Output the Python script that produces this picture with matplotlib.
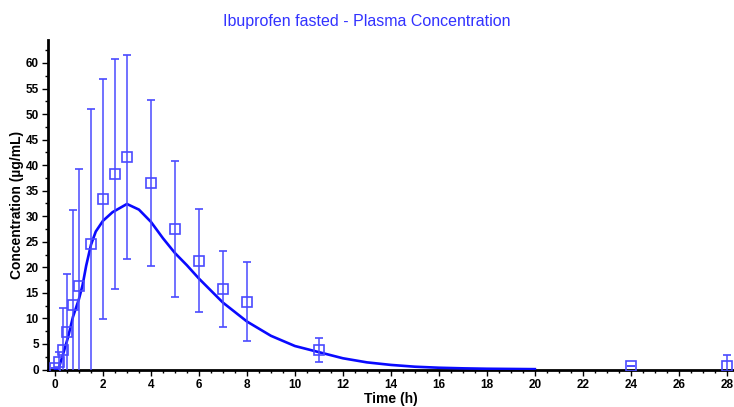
import matplotlib
matplotlib.use("Agg")
import matplotlib.pyplot as plt
import numpy as np
from matplotlib.ticker import MultipleLocator

# Observed plasma concentrations (mean +/- SD)
obs_time = [0, 0.17, 0.33, 0.5, 0.75, 1, 1.5, 2, 2.5, 3, 4, 5, 6, 7, 8, 11, 24, 28]
obs_mean = [0.3, 1.4, 3.9, 7.3, 12.7, 16.4, 24.5, 33.3, 38.3, 41.6, 36.5, 27.5,
            21.3, 15.8, 13.3, 3.8, 0.7, 0.7]
obs_sd = [0, 2.1, 8.1, 11.4, 18.6, 22.9, 26.4, 23.5, 22.5, 19.9, 16.3, 13.4,
          10.1, 7.4, 7.8, 2.3, 0, 2.1]

# Simulated concentration-time profile
sim_time = [0, 0.15, 0.2, 0.35, 0.55, 0.75, 1.0, 1.15, 1.3, 1.5, 1.7, 2.0, 2.4,
            3.0, 3.5, 4.0, 4.5, 5.0, 5.5, 6.0, 7.0, 8.0, 9.0, 10.0, 11.0, 12.0,
            13.0, 14.0, 15.0, 16.0, 17.0, 18.0, 20.0]
sim_conc = [0, 0, 0.9, 3.2, 6.4, 10.3, 13.8, 16.5, 20.3, 24.4, 27.0, 29.1, 30.8,
            32.4, 31.3, 28.9, 25.7, 22.8, 20.4, 17.8, 13.1, 9.4, 6.6, 4.6, 3.4,
            2.2, 1.4, 0.9, 0.55, 0.35, 0.23, 0.15, 0.07]

plt.rcParams["font.family"] = ["Liberation Sans", "DejaVu Sans"]

fig = plt.figure(figsize=(7.34, 4.07), dpi=100)
ax = fig.add_axes([0.0654, 0.0921, 0.933, 0.8096])

ax.plot(sim_time, sim_conc, color="#0a0aff", lw=1.9, zorder=3)
ax.errorbar(obs_time, obs_mean, yerr=obs_sd, fmt="s", mfc="none",
            mec="#4a4aff", ms=7, mew=1.2, ecolor="#4a4aff", elinewidth=1.1,
            capsize=3.2, capthick=1.1, zorder=4)

ax.set_xlim(-0.29, 28.25)
ax.set_ylim(0, 64.5)
ax.xaxis.set_major_locator(MultipleLocator(2))
ax.xaxis.set_minor_locator(MultipleLocator(0.5))
ax.yaxis.set_minor_locator(MultipleLocator(2.5))
ax.set_yticks(np.arange(0, 61, 5))

for side in ("top", "right"):
    ax.spines[side].set_visible(False)
for side in ("left", "bottom"):
    ax.spines[side].set_linewidth(2.0)
    ax.spines[side].set_color("black")

ax.tick_params(which="major", direction="out", length=4, width=1, colors="black",
               labelsize=8.5, pad=2.5)
ax.tick_params(which="minor", direction="out", length=2.5, width=1, colors="black")
for lbl in ax.get_xticklabels() + ax.get_yticklabels():
    lbl.set_fontweight("bold")

ax.set_xlabel("Time (h)", fontsize=10, fontweight="bold", labelpad=1)
ax.set_ylabel("Concentration (\u00b5g/mL)", fontsize=10, fontweight="bold", labelpad=1)
fig.text(0.5, 0.948, "Ibuprofen fasted - Plasma Concentration", ha="center",
         va="center", fontsize=11.5, color="#3232ff")

fig.savefig("out.png", dpi=100)
